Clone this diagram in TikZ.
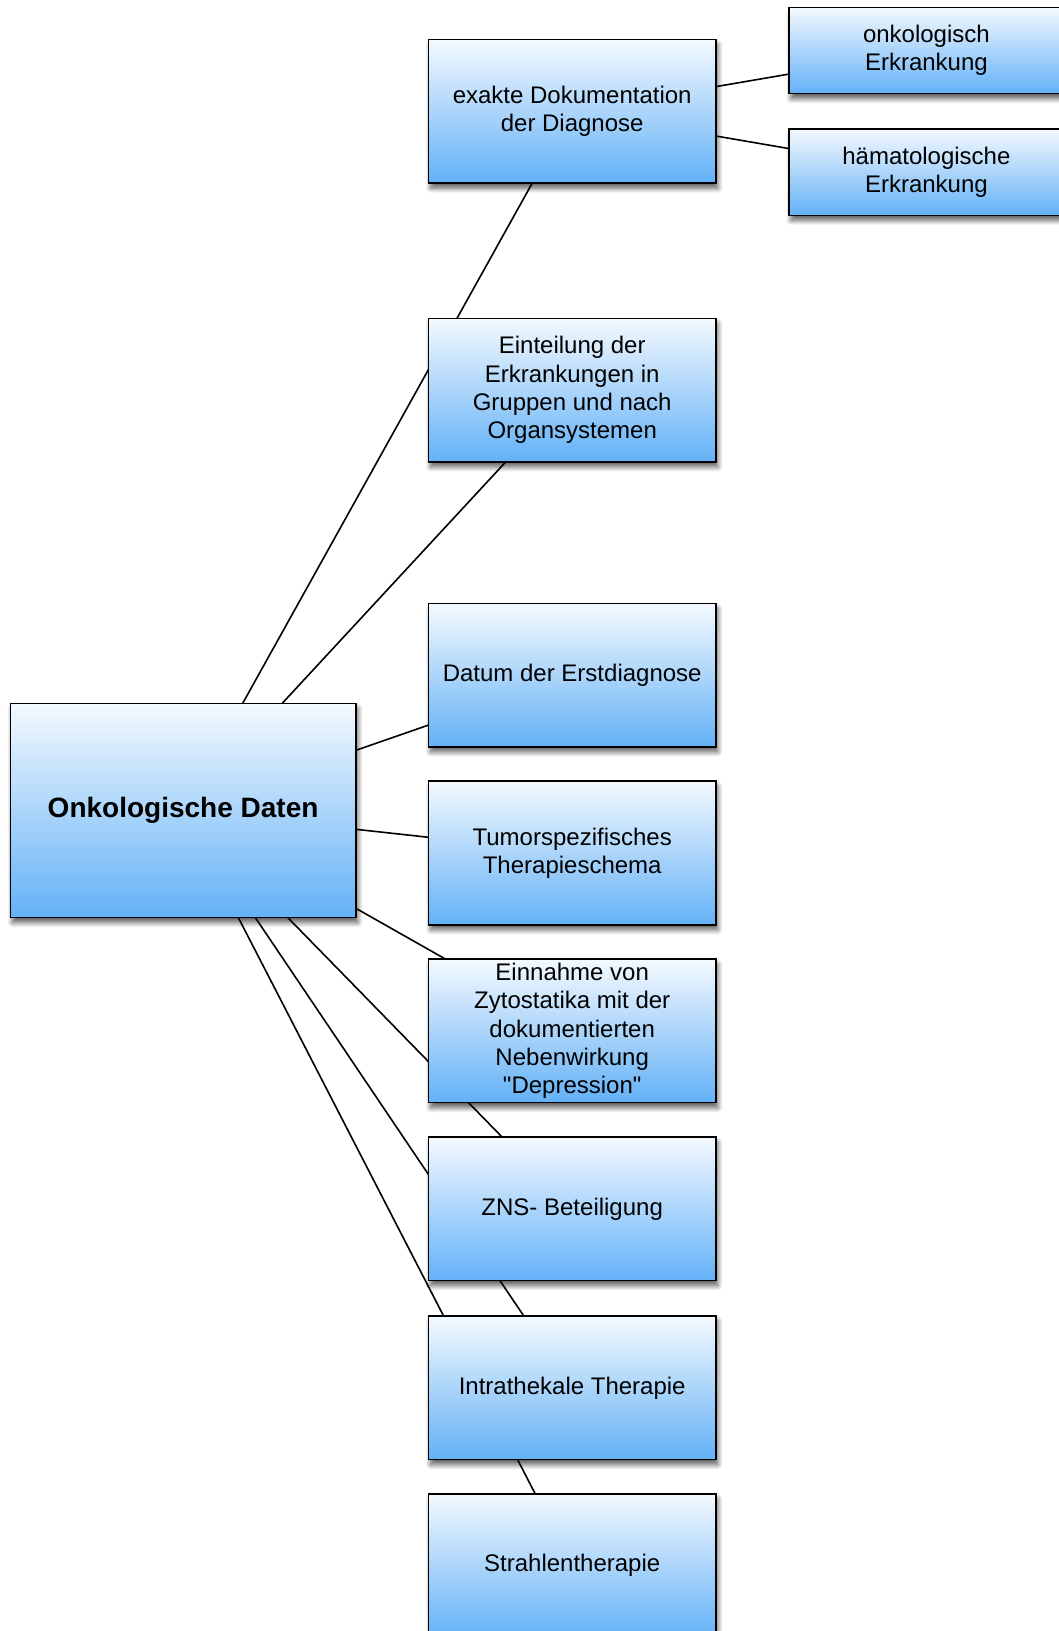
\documentclass[tikz,border=0pt]{standalone}
\usepackage{fontspec}
\setmainfont{Liberation Sans}[Ligatures=TeXOff]
\usetikzlibrary{shadows.blur}
\pgfdeclarelayer{background}
\pgfsetlayers{background,main}

\definecolor{boxtop}{RGB}{244,249,254}
\definecolor{boxbottom}{RGB}{99,177,247}

\tikzset{
  infobox/.style={
    draw=black, line width=1.5pt, rectangle, inner sep=0pt,
    top color=boxtop, bottom color=boxbottom,
    align=center, font=\fontsize{24}{28.4}\selectfont,
    blur shadow={shadow xshift=2pt, shadow yshift=-5pt,
      shadow blur radius=5pt, shadow blur steps=12, shadow opacity=65}
  },
  colbox/.style={infobox, minimum width=287.1pt, minimum height=143.6pt},
  leafbox/.style={infobox, minimum width=274.6pt, minimum height=86.3pt},
  rootbox/.style={infobox, minimum width=345.4pt, minimum height=214.3pt,
    font=\fontsize{28}{33}\selectfont\bfseries},
  link/.style={draw=black, line width=1.6pt}
}

\begin{document}
\begin{tikzpicture}[x=1pt, y=-1pt]
  \useasboundingbox (0,0) rectangle (1059,1631);

  % root
  \node[rootbox] (root) at (183.1,810.4) {Onkologische Daten};

  % main column
  \node[colbox] (doku)   at (572.2,111.3)  {exakte Dokumentation\\der Diagnose};
  \node[colbox] (gruppe) at (572.2,390.1)  {Einteilung der\\Erkrankungen in\\Gruppen und nach\\Organsystemen};
  \node[colbox] (datum)  at (572.2,675.1)  {Datum der Erstdiagnose};
  \node[colbox] (schema) at (572.2,853.0)  {Tumorspezifisches\\Therapieschema};
  \node[colbox] (zyto)   at (572.2,1030.9) {Einnahme von\\Zytostatika mit der\\dokumentierten\\Nebenwirkung\\"Depression"};
  \node[colbox] (zns)    at (572.2,1208.8) {ZNS- Beteiligung};
  \node[colbox] (intra)  at (572.2,1387.8) {Intrathekale Therapie};
  \node[colbox] (strahl) at (572.2,1565.6) {Strahlentherapie};

  % diagnosis subtypes
  \node[leafbox] (onko) at (926.4,50.5)  {onkologisch\\Erkrankung};
  \node[leafbox] (haem) at (926.4,172.2) {hämatologische\\Erkrankung};

  % connectors run centre to centre, hidden behind the boxes
  \begin{pgfonlayer}{background}
    \foreach \child in {doku,gruppe,datum,schema,zyto,zns,intra,strahl}
      \draw[link] (root.center) -- (\child.center);
    \draw[link] (doku.center) -- (onko.center);
    \draw[link] (doku.center) -- (haem.center);
  \end{pgfonlayer}
\end{tikzpicture}
\end{document}
